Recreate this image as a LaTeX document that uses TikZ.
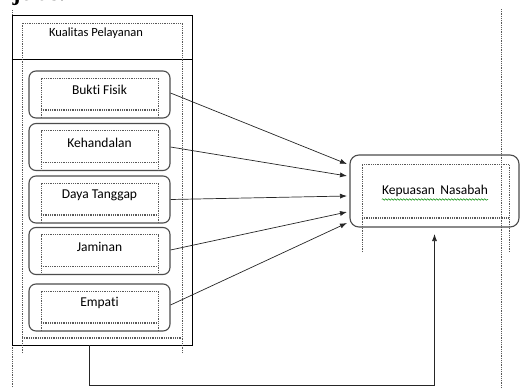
\documentclass[tikz,border=0pt]{standalone}
\usepackage{fontspec}
\setmainfont{Carlito}[Ligatures=NoCommon]
\newfontfamily\serifb{Liberation Serif}
\usetikzlibrary{arrows.meta,decorations.pathmorphing}
\tikzset{
  frame/.style={draw=black, line width=0.8pt},
  rbox/.style={draw=black!70, line width=1.1pt, rounded corners=7pt, minimum width=141pt, minimum height=47pt, inner sep=0pt},
  kbox/.style={draw=black!70, line width=1.1pt, rounded corners=9pt, minimum width=169pt, minimum height=72pt, inner sep=0pt},
  dots/.style={draw=black!65, line width=0.5pt, dash pattern=on 0.9pt off 0.9pt},
  ddots/.style={draw=black!65, line width=1.3pt, dash pattern=on 0.9pt off 0.9pt},
  arr/.style={-{Latex[length=7pt,width=5pt]}, line width=0.7pt, draw=black!85},
  lbl/.style={font=\fontsize{13.5}{13.5}\selectfont, inner sep=0pt},
}
\begin{document}
\begin{tikzpicture}[x=1pt,y=-1pt]
\useasboundingbox (0,0) rectangle (520,388);
\clip (0,0) rectangle (520,388);
% cut heading
\node[font=\serifb\bfseries\fontsize{24}{24}\selectfont, anchor=base west, inner sep=0pt] (head) at (-1,1) {njelas.};
% page margin guides
\draw[dots] (12,10) -- (12,388);
\draw[dots] (501,9) -- (501,388);
% outer frame
\node[frame, minimum width=180pt, minimum height=330pt, inner sep=0pt] (Q) at (102,180) {};
\draw[frame] (Q.west |- 0,59) -- (Q.east |- 0,59);
\draw[dots] (22,353) -- (22,23) -- (182,23) -- (182,353);
\draw[ddots] (22,338) -- (182,338);
\node[font=\fontsize{12.5}{12.5}\selectfont, inner sep=0pt] (title) at (96,33) {Kualitas Pelayanan};
% factor boxes
\foreach \n/\c/\t in {1/94.5/Bukti Fisik, 2/147/Kehandalan, 3/199.5/Daya Tanggap, 4/251/Jaminan, 5/307.5/Empati} {
  \node[rbox] (b\n) at (99.5,\c) {};
  \draw[dots] (41,\c+23.5) -- (41,\c-16.5) -- (158,\c-16.5) -- (158,\c+23.5);
  \draw[ddots] (41,\c+15.5) -- (158,\c+15.5);
  \node[lbl] (t\n) at (99.5,\c-4.5) {\t};
}
% result box
\node[kbox] (K) at (434.5,191) {};
\draw[dots] (362,252) -- (362,164) -- (509,164) -- (509,252);
\draw[ddots] (362,218) -- (509,218);
\node[lbl, font=\fontsize{13.5}{13.5}\selectfont] (kt) at (435,191) {Kepuasan\, Nasabah};
\draw[green!55!black, line width=0.5pt, decorate, decoration={snake, segment length=3pt, amplitude=0.8pt}] (kt.south west) ++(0,2.5) -- ([yshift=-2.5pt]kt.south east);
% arrow targets
\coordinate (k1) at (347,164);
\coordinate (k2) at (347,176);
\coordinate (k3) at (347,196);
\coordinate (k4) at (347,212);
\coordinate (k5) at (347,223);
\draw[arr] ([yshift=1.5pt]b1.east) -- (k1);
\draw[arr] (b2.east) -- (k2);
\draw[arr] (b3.east) -- (k3);
\draw[arr] ([yshift=1pt]b4.east) -- (k4);
\draw[arr] ([yshift=2.5pt]b5.east) -- (k5);
% feedback connector
\coordinate (s) at (89,345);
\coordinate (e) at (434.5,234);
\draw[arr] (s) -- (89,385) -| (e);
\end{tikzpicture}
\end{document}
